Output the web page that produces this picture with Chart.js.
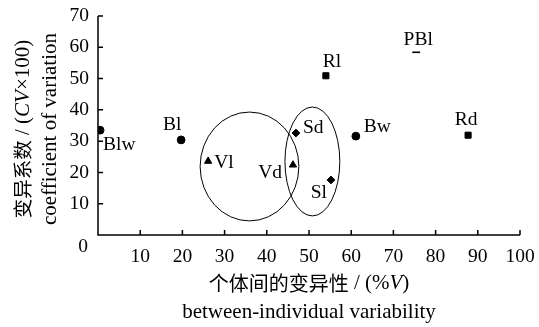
<!DOCTYPE html>
<html><head><meta charset="utf-8">
<script src="https://cdn.jsdelivr.net/npm/chart.js@4"></script>
<style>html,body{margin:0;padding:0;background:#fff}#wrap{width:539px;height:327px}</style>
</head><body><div id="wrap"><canvas id="c" width="539" height="327"></canvas></div>
<script>
// ---- data ----
const pointNames = ['Blw','Bl','Vl','Vd','Sd','Sl','Bw','Rl','PBl','Rd'];
const xValues    = [0.5, 19.7, 26.1, 46.2, 46.9, 55.2, 61.1, 54.0, 75.4, 87.7];
const yValues    = [33.5, 30.4, 23.6, 22.4, 32.6, 17.6, 31.6, 50.9, 58.4, 31.9];
const markers    = ['circle','circle','triangle','triangle','rectRot','rectRot','circle','rect','line','rect'];
// ellipses (data units)
const ellipseCx = [35.9, 50.8];
const ellipseCy = [21.9, 23.5];
const ellipseRx = [11.7, 6.5];
const ellipseRy = [17.4, 17.4];
// ticks
const xTicks = [10,20,30,40,50,60,70,80,90,100];
const yTicks = [10,20,30,40,50,60,70];

// ---- label placement (pixels relative to the point) ----
const labelPlace = [
  ['left', 3, 15], ['center', -9, -15], ['left', 6, 2], ['right', -11, 8],
  ['left', 7, -5], ['right', -4, 13], ['left', 8, -9], ['center', 6, -14],
  ['center', 2, -12], ['center', -2, -15]
];

const SERIF = '"Liberation Serif", "DejaVu Serif", serif';
const CJK = '"Noto Sans CJK SC", sans-serif';

function drawRuns(ctx, runs, cx, cy) {
  let total = 0;
  runs.forEach(r => { ctx.font = r.f; r.w = ctx.measureText(r.t).width; total += r.w; });
  let x = cx - total / 2;
  ctx.textAlign = 'left'; ctx.textBaseline = 'middle';
  runs.forEach(r => { ctx.font = r.f; ctx.fillText(r.t, x, cy + (r.dy || 0)); x += r.w; });
}

const decor = {
  id: 'decor',
  afterDraw(chart) {
    const ctx = chart.ctx, xs = chart.scales.x, ys = chart.scales.y;
    ctx.save();
    ctx.fillStyle = '#000'; ctx.strokeStyle = '#000';
    // axis lines
    ctx.lineWidth = 1.5;
    ctx.beginPath();
    ctx.moveTo(xs.getPixelForValue(0), ys.getPixelForValue(70));
    ctx.lineTo(xs.getPixelForValue(0), ys.getPixelForValue(0));
    ctx.lineTo(xs.getPixelForValue(100), ys.getPixelForValue(0));
    ctx.stroke();
    // inward tick marks
    ctx.beginPath();
    xTicks.forEach(v => { const px = xs.getPixelForValue(v), py = ys.getPixelForValue(0); ctx.moveTo(px, py); ctx.lineTo(px, py - 5); });
    yTicks.forEach(v => { const px = xs.getPixelForValue(0), py = ys.getPixelForValue(v); ctx.moveTo(px, py); ctx.lineTo(px + 5, py); });
    ctx.stroke();
    // corner zero
    ctx.font = '19.5px ' + SERIF; ctx.textAlign = 'center'; ctx.textBaseline = 'middle';
    ctx.fillText('0', xs.getPixelForValue(0) - 15, ys.getPixelForValue(0) + 12);
    // ellipses
    ctx.lineWidth = 1;
    for (let i = 0; i < ellipseCx.length; i++) {
      const cx = xs.getPixelForValue(ellipseCx[i]), cy = ys.getPixelForValue(ellipseCy[i]);
      const rx = Math.abs(xs.getPixelForValue(ellipseCx[i] + ellipseRx[i]) - cx);
      const ry = Math.abs(ys.getPixelForValue(ellipseCy[i] + ellipseRy[i]) - cy);
      ctx.beginPath(); ctx.ellipse(cx, cy, rx, ry, 0, 0, Math.PI * 2); ctx.stroke();
    }
    // point labels
    ctx.font = '19.5px ' + SERIF; ctx.textBaseline = 'middle';
    const meta = chart.getDatasetMeta(0);
    meta.data.forEach((el, i) => {
      const p = labelPlace[i];
      ctx.textAlign = p[0];
      ctx.fillText(pointNames[i], el.x + p[1], el.y + p[2]);
    });
    // x axis titles
    const midX = (chart.chartArea.left + chart.chartArea.right) / 2;
    drawRuns(ctx, [
      {t: '个体间的变异性', f: '20px ' + CJK},
      {t: ' / (%', f: '21px ' + SERIF},
      {t: 'V', f: 'italic 21px ' + SERIF},
      {t: ')', f: '21px ' + SERIF}
    ], midX, 283);
    drawRuns(ctx, [{t: 'between-individual variability', f: '21px ' + SERIF}], midX, 312);
    // y axis titles (rotated)
    const midY = 129;
    ctx.save(); ctx.translate(23, midY); ctx.rotate(-Math.PI / 2);
    drawRuns(ctx, [
      {t: '变异系数', f: '19.5px ' + CJK},
      {t: ' / (', f: '21px ' + SERIF},
      {t: 'CV', f: 'italic 21px ' + SERIF},
      {t: '×100)', f: '21px ' + SERIF}
    ], 0, 0);
    ctx.restore();
    ctx.save(); ctx.translate(50, midY); ctx.rotate(-Math.PI / 2);
    drawRuns(ctx, [{t: 'coefficient of variation', f: '21px ' + SERIF}], 0, 0);
    ctx.restore();
    ctx.restore();
  }
};

new Chart(document.getElementById('c'), {
  type: 'scatter',
  data: {
    datasets: [{
      data: xValues.map((x, i) => ({x: x, y: yValues[i]})),
      pointStyle: markers,
      pointRadius: markers.map(m => m === 'rect' ? 4.3 : (m === 'triangle' ? 4.2 : 3.9)),
      backgroundColor: '#000', borderColor: '#000', borderWidth: markers.map(m => m === 'line' ? 1.6 : 1)
    }]
  },
  plugins: [decor],
  options: {
    responsive: false, animation: false, devicePixelRatio: 1,
    layout: {padding: {left: 0, top: 16, right: 19, bottom: 0}},
    plugins: {legend: {display: false}, tooltip: {enabled: false}},
    scales: {
      x: {
        type: 'linear', min: 0, max: 100,
        afterFit: s => { s.height = 92; s.paddingLeft = 0; s.paddingRight = 0; },
        afterBuildTicks: s => { s.ticks = xTicks.map(v => ({value: v})); },
        grid: {display: false, drawTicks: false},
        border: {display: false},
        ticks: {color: '#000', font: {family: SERIF, size: 19.5}, padding: 10, maxRotation: 0, autoSkip: false}
      },
      y: {
        type: 'linear', min: 0, max: 70,
        afterFit: s => { s.width = 98; s.paddingTop = 0; s.paddingBottom = 0; },
        afterBuildTicks: s => { s.ticks = yTicks.map(v => ({value: v})); },
        grid: {display: false, drawTicks: false},
        border: {display: false},
        ticks: {color: '#000', font: {family: SERIF, size: 19.5}, padding: 9, autoSkip: false}
      }
    }
  }
});
</script></body></html>
